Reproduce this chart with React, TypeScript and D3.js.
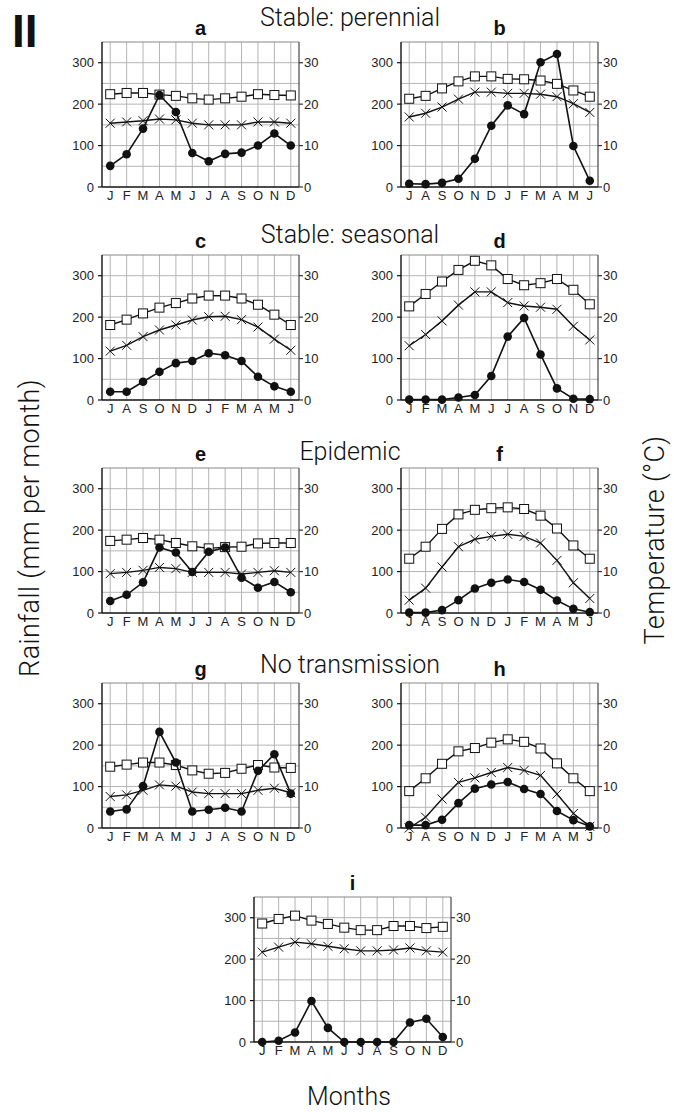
import React from "react";
import * as d3 from "d3";

// Month labels: calendar year (Jan–Dec) and southern season (Jul–Jun)
const MONTHS_JAN = ["J", "F", "M", "A", "M", "J", "J", "A", "S", "O", "N", "D"];
const MONTHS_JUL = ["J", "A", "S", "O", "N", "D", "J", "F", "M", "A", "M", "J"];

const RAIN_TICKS = [0, 100, 200, 300];
const TEMP_TICKS = [0, 10, 20, 30];

// Rainfall (mm per month)
const rainA = [51, 79, 141, 222, 181, 82, 62, 80, 83, 100, 129, 100];
const rainB = [8, 7, 10, 20, 68, 148, 197, 176, 301, 321, 99, 15];
const rainC = [20, 20, 44, 68, 89, 94, 113, 108, 94, 56, 33, 20];
const rainD = [1, 1, 1, 6, 12, 58, 153, 198, 110, 28, 3, 2];
const rainE = [29, 44, 74, 158, 146, 99, 148, 158, 85, 61, 75, 50];
const rainF = [1, 1, 7, 31, 59, 73, 81, 75, 56, 30, 10, 2];
const rainG = [40, 45, 101, 232, 158, 40, 44, 49, 40, 138, 178, 83];
const rainH = [7, 7, 20, 60, 95, 105, 111, 94, 82, 41, 19, 4];
const rainI = [0, 3, 23, 99, 34, 0, 0, 0, 0, 47, 56, 12];

// Mean maximum temperature (°C)
const tmaxA = [22.4, 22.7, 22.7, 22.3, 22.0, 21.4, 21.1, 21.4, 21.8, 22.4, 22.2, 22.1];
const tmaxB = [21.3, 22.0, 23.8, 25.5, 26.7, 26.7, 26.1, 26.0, 25.7, 24.9, 23.3, 21.8];
const tmaxC = [18.1, 19.4, 20.9, 22.3, 23.4, 24.5, 25.2, 25.2, 24.5, 23.0, 20.6, 18.1];
const tmaxD = [22.6, 25.6, 28.6, 31.4, 33.6, 32.5, 29.2, 27.7, 28.2, 29.2, 26.6, 23.1];
const tmaxE = [17.4, 17.7, 18.1, 17.7, 16.9, 16.1, 15.6, 15.9, 16.0, 16.8, 16.9, 16.9];
const tmaxF = [13.1, 16.0, 20.3, 23.8, 24.9, 25.3, 25.5, 25.1, 23.5, 20.4, 16.3, 13.1];
const tmaxG = [14.8, 15.3, 15.8, 15.8, 15.2, 13.9, 13.1, 13.3, 14.3, 15.2, 14.6, 14.5];
const tmaxH = [8.9, 12.0, 15.5, 18.5, 19.3, 20.6, 21.4, 20.8, 19.2, 15.6, 12.0, 8.9];
const tmaxI = [28.6, 29.7, 30.5, 29.3, 28.5, 27.6, 27.0, 27.0, 28.0, 28.0, 27.5, 27.8];

// Mean minimum temperature (°C)
const tminA = [15.4, 15.7, 16.0, 16.4, 16.2, 15.4, 15.0, 15.0, 15.0, 15.7, 15.7, 15.4];
const tminB = [16.9, 17.8, 19.3, 21.2, 22.9, 22.9, 22.6, 22.6, 22.4, 21.8, 20.1, 18.0];
const tminC = [11.8, 13.2, 15.3, 16.9, 18.1, 19.3, 20.1, 20.2, 19.4, 17.6, 14.7, 12.0];
const tminD = [13.1, 15.8, 19.1, 22.9, 26.1, 26.1, 23.5, 22.7, 22.4, 21.9, 17.8, 14.5];
const tminE = [9.5, 9.8, 10.3, 11.0, 10.7, 9.8, 9.8, 9.8, 9.4, 9.8, 10.2, 9.8];
const tminF = [3.1, 6.0, 11.1, 16.0, 17.8, 18.5, 19.0, 18.5, 16.9, 12.7, 7.3, 3.5];
const tminG = [7.6, 8.0, 9.1, 10.4, 10.1, 8.7, 8.3, 8.3, 8.3, 9.1, 9.6, 8.5];
const tminH = [0.0, 2.6, 7.0, 11.0, 12.1, 13.4, 14.6, 13.9, 12.7, 8.2, 3.5, 0.4];
const tminI = [21.7, 22.9, 24.1, 23.7, 23.1, 22.5, 22.0, 22.0, 22.2, 22.7, 22.0, 21.7];

const SECTIONS = ["Stable: perennial", "Stable: seasonal", "Epidemic", "No transmission"];

type PanelSpec = {
  letter: string;
  x0: number;
  y0: number;
  months: string[];
  rain: number[];
  tmax: number[];
  tmin: number[];
};

const W = 197;
const H = 145;
const COL_L = 102;
const COL_R = 401;
const COL_C = 254;
const ROWS = [42, 255, 468, 683, 897];
const SECTION_BASE = [26, 243, 460, 673];

const panels: PanelSpec[] = [
  { letter: "a", x0: COL_L, y0: ROWS[0], months: MONTHS_JAN, rain: rainA, tmax: tmaxA, tmin: tminA },
  { letter: "b", x0: COL_R, y0: ROWS[0], months: MONTHS_JUL, rain: rainB, tmax: tmaxB, tmin: tminB },
  { letter: "c", x0: COL_L, y0: ROWS[1], months: MONTHS_JUL, rain: rainC, tmax: tmaxC, tmin: tminC },
  { letter: "d", x0: COL_R, y0: ROWS[1], months: MONTHS_JAN, rain: rainD, tmax: tmaxD, tmin: tminD },
  { letter: "e", x0: COL_L, y0: ROWS[2], months: MONTHS_JAN, rain: rainE, tmax: tmaxE, tmin: tminE },
  { letter: "f", x0: COL_R, y0: ROWS[2], months: MONTHS_JUL, rain: rainF, tmax: tmaxF, tmin: tminF },
  { letter: "g", x0: COL_L, y0: ROWS[3], months: MONTHS_JAN, rain: rainG, tmax: tmaxG, tmin: tminG },
  { letter: "h", x0: COL_R, y0: ROWS[3], months: MONTHS_JUL, rain: rainH, tmax: tmaxH, tmin: tminH },
  { letter: "i", x0: COL_C, y0: ROWS[4], months: MONTHS_JAN, rain: rainI, tmax: tmaxI, tmin: tminI },
];

const SANS = "'Liberation Sans', Arial, Helvetica, sans-serif";
const LIGHT = "Roboto, 'Liberation Sans', sans-serif";
const GRID = "#b4b4b4";

function Panel({ p }: { p: PanelSpec }) {
  const idx = d3.range(12);
  const x = d3.scalePoint<number>().domain(idx).range([p.x0, p.x0 + W]).padding(0.5);
  const yR = d3.scaleLinear().domain([0, 350]).range([p.y0 + H, p.y0]);
  const yT = d3.scaleLinear().domain([0, 35]).range([p.y0 + H, p.y0]);
  const x1 = p.x0 + W;
  const y1 = p.y0 + H;

  const lineR = d3.line<number>().x((_, i) => x(i)!).y((v) => yR(v));
  const lineT = d3.line<number>().x((_, i) => x(i)!).y((v) => yT(v));

  const hGrid = d3.range(50, 350, 50);

  return (
    <g>
      {/* grid */}
      {hGrid.map((v) => (
        <line key={"h" + v} x1={p.x0} x2={x1} y1={yR(v)} y2={yR(v)} stroke={GRID} strokeWidth={1} />
      ))}
      {idx.map((i) => (
        <line key={"v" + i} x1={x(i)} x2={x(i)} y1={p.y0} y2={y1} stroke={GRID} strokeWidth={1} />
      ))}
      {/* frame */}
      <line x1={p.x0} x2={x1} y1={p.y0} y2={p.y0} stroke="#888" strokeWidth={1.2} />
      <line x1={x1} x2={x1} y1={p.y0} y2={y1} stroke="#555" strokeWidth={1.3} />
      <line x1={p.x0} x2={p.x0} y1={p.y0} y2={y1} stroke="#111" strokeWidth={1.4} />
      <line x1={p.x0} x2={x1} y1={y1} y2={y1} stroke="#111" strokeWidth={1.4} />

      {/* left rainfall axis */}
      {RAIN_TICKS.map((t) => (
        <g key={"lt" + t}>
          <line x1={p.x0 - 4} x2={p.x0} y1={yR(t)} y2={yR(t)} stroke="#111" strokeWidth={1.2} />
          <text x={p.x0 - 8} y={yR(t)} dy="0.35em" textAnchor="end" fontFamily={SANS} fontSize={13} fill="#222">
            {t}
          </text>
        </g>
      ))}
      {/* right temperature axis */}
      {TEMP_TICKS.map((t) => (
        <g key={"rt" + t}>
          <line x1={x1} x2={x1 + 4} y1={yT(t)} y2={yT(t)} stroke="#333" strokeWidth={1.2} />
          <text x={x1 + 5} y={yT(t)} dy="0.35em" textAnchor="start" fontFamily={SANS} fontSize={13} fill="#222">
            {t}
          </text>
        </g>
      ))}
      {/* month labels */}
      {p.months.map((m, i) => (
        <text key={"m" + i} x={x(i)} y={y1 + 13} textAnchor="middle" fontFamily={SANS} fontSize={13} fill="#222">
          {m}
        </text>
      ))}
      {/* panel letter */}
      <text x={p.x0 + W / 2} y={p.y0 - 7} textAnchor="middle" fontFamily={SANS} fontWeight="bold" fontSize={20} fill="#111">
        {p.letter}
      </text>

      {/* maximum temperature: open squares */}
      <path d={lineT(p.tmax)!} fill="none" stroke="#111" strokeWidth={1.4} />
      {p.tmax.map((v, i) => (
        <rect key={"s" + i} x={x(i)! - 4.5} y={yT(v) - 4.5} width={9} height={9} fill="#fff" stroke="#111" strokeWidth={1} />
      ))}
      {/* minimum temperature: crosses */}
      <path d={lineT(p.tmin)!} fill="none" stroke="#111" strokeWidth={1.4} />
      {p.tmin.map((v, i) => {
        const cx = x(i)!;
        const cy = yT(v);
        const r = 4.5;
        return (
          <path
            key={"x" + i}
            d={`M${cx - r},${cy - r}L${cx + r},${cy + r}M${cx - r},${cy + r}L${cx + r},${cy - r}`}
            stroke="#111"
            strokeWidth={1}
          />
        );
      })}
      {/* rainfall: filled circles */}
      <path d={lineR(p.rain)!} fill="none" stroke="#111" strokeWidth={1.6} />
      {p.rain.map((v, i) => (
        <circle key={"c" + i} cx={x(i)} cy={yR(v)} r={4.3} fill="#111" />
      ))}
    </g>
  );
}

export default function App() {
  const cx = (COL_L + COL_R + W) / 2;
  return (
    <svg width={674} height={1112} style={{ position: "absolute", left: 0, top: 0 }}>
      <rect width={674} height={1112} fill="#fff" />
      <text x={12} y={47} fontFamily={SANS} fontWeight="bold" fontSize={46} fill="#111">
        II
      </text>
      {SECTIONS.map((s, i) => (
        <text key={s} x={cx} y={SECTION_BASE[i]} textAnchor="middle" fontFamily={LIGHT} fontWeight={300} fontSize={25} fill="#111">
          {s}
        </text>
      ))}
      {panels.map((p) => (
        <Panel key={p.letter} p={p} />
      ))}
      <text
        transform="translate(30,528) rotate(-90)"
        textAnchor="middle"
        dy="0.35em"
        fontFamily={LIGHT}
        fontWeight={300}
        fontSize={27}
        letterSpacing={0.4}
        fill="#111"
      >
        Rainfall (mm per month)
      </text>
      <text
        transform="translate(655,540) rotate(-90)"
        textAnchor="middle"
        dy="0.35em"
        fontFamily={LIGHT}
        fontWeight={300}
        fontSize={27}
        letterSpacing={0.4}
        fill="#111"
      >
        Temperature (°C)
      </text>
      <text x={349} y={1105} textAnchor="middle" fontFamily={LIGHT} fontWeight={300} fontSize={25} fill="#111">
        Months
      </text>
    </svg>
  );
}
